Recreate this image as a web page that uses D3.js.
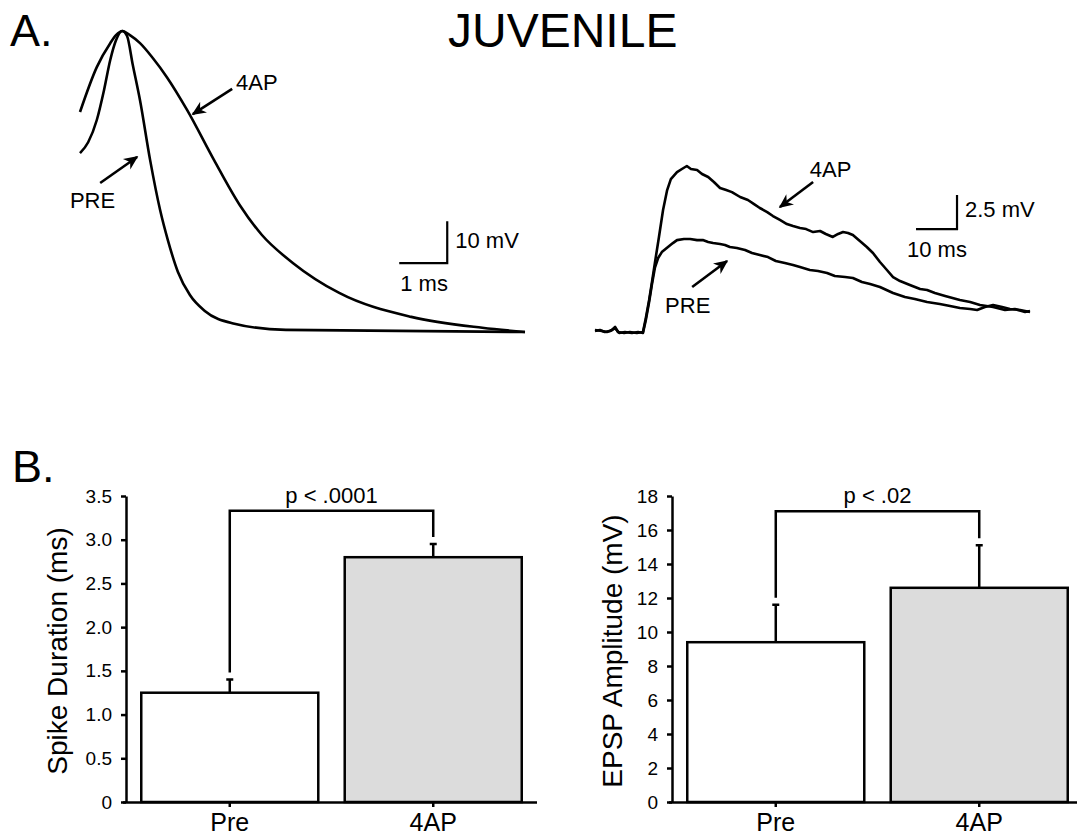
<!DOCTYPE html>
<html>
<head>
<meta charset="utf-8">
<script src="https://cdn.jsdelivr.net/npm/d3@7"></script>
<style>
  body { margin: 0; background: #fff; }
  svg { display: block; font-family: "Liberation Sans", Arial, Helvetica, sans-serif; }
  .trace { fill: none; stroke: #000; stroke-width: 2.6; stroke-linejoin: round; }
  .scalebar { fill: none; stroke: #000; stroke-width: 2.2; }
  .arrow { stroke: #000; stroke-width: 2.6; }
  .axis path, .axis line { stroke: #000; stroke-width: 2.5; }
  .axis text { fill: #000; }
  .bar { stroke: #000; stroke-width: 2.5; }
  .err, .bracket { fill: none; stroke: #000; stroke-width: 2.5; }
</style>
</head>
<body>
<svg width="1077" height="839"></svg>
<script>
// ---- panel A: action potential (t in ms, V in mV above rest) ----
const spike4AP = [
  [0.00, 52.4], [0.35, 63.1], [0.63, 68.8], [0.75, 70.7], [0.88, 71.7],
  [1.04, 70.7], [1.25, 68.8], [1.52, 65.2], [1.81, 60.7], [2.23, 52.9],
  [2.79, 41.0], [3.33, 30.2], [3.79, 23.1], [4.44, 16.4], [5.40, 9.3],
  [6.90, 3.6], [8.38, 1.0], [9.27, 0.0]
];
const spikePre = [
  [0.00, 42.6], [0.17, 45.2], [0.35, 50.5], [0.50, 57.6], [0.63, 64.8],
  [0.75, 69.5], [0.88, 71.7], [0.98, 70.5], [1.10, 63.6], [1.25, 55.2],
  [1.46, 41.0], [1.67, 29.0], [1.83, 21.9], [2.04, 14.3], [2.29, 8.8],
  [2.60, 5.0], [3.17, 2.1], [4.29, 0.5], [9.27, 0.0]
];

// ---- panel A: EPSP (t in ms, V in mV above baseline) ----
const epsp4AP = [
  [0.0, 0.15], [1.7, 0.07], [2.9, 0.0], [4.1, 0.15], [4.9, 0.37], [5.6, 0.0],
  [7.1, -0.07], [8.5, 0.0], [10.2, -0.07], [11.7, 0.0],
  [12.4, 1.03], [13.2, 2.35], [13.9, 3.68], [14.6, 5.07], [15.6, 6.99],
  [16.6, 8.97], [17.6, 10.44], [18.5, 11.25], [20.0, 11.76], [21.2, 11.99],
  [22.4, 12.21], [23.4, 11.99], [24.9, 11.91], [26.1, 11.62], [27.6, 11.40],
  [29.0, 11.03], [30.5, 10.59], [32.0, 10.44], [33.4, 10.29], [35.4, 9.93],
  [37.3, 9.71], [38.8, 9.41], [40.2, 9.12], [42.0, 8.82], [43.4, 8.53],
  [45.1, 8.24], [46.8, 7.94], [48.3, 7.79], [50.0, 7.65], [51.5, 7.57],
  [53.2, 7.35], [54.9, 7.43], [56.3, 7.21], [58.0, 6.99], [59.3, 7.21],
  [60.5, 7.35], [61.7, 7.28], [62.9, 7.13], [64.6, 6.69], [66.3, 6.25],
  [67.8, 5.81], [69.5, 5.15], [71.2, 4.56], [72.7, 4.04], [74.4, 3.75],
  [76.8, 3.46], [79.3, 3.16], [81.0, 3.09], [82.9, 2.87], [85.4, 2.65],
  [89.0, 2.35], [91.5, 2.21], [93.9, 1.99], [97.1, 1.84], [100.0, 1.62],
  [102.4, 1.69], [104.9, 1.47], [106.1, 1.54]
];
const epspPre = [
  [0.0, 0.07], [1.2, 0.15], [2.4, 0.0], [3.7, 0.07], [4.9, 0.29], [5.9, -0.07],
  [7.3, 0.0], [9.0, -0.07], [10.5, 0.0], [11.7, -0.07],
  [12.4, 0.88], [13.2, 2.21], [13.9, 3.53], [14.6, 4.71], [15.4, 5.44],
  [16.3, 5.88], [17.8, 6.25], [19.0, 6.54], [20.0, 6.76], [21.7, 6.84],
  [23.2, 6.84], [24.9, 6.76], [26.3, 6.76], [27.6, 6.62], [28.8, 6.54],
  [30.5, 6.47], [31.7, 6.40], [32.9, 6.25], [34.6, 6.18], [36.6, 6.03],
  [38.3, 5.81], [40.2, 5.66], [42.2, 5.51], [44.1, 5.22], [46.3, 5.07],
  [48.3, 4.93], [50.0, 4.78], [52.4, 4.56], [54.4, 4.49], [56.6, 4.34],
  [58.5, 4.12], [61.0, 4.04], [62.9, 3.97], [65.1, 3.68], [67.1, 3.53],
  [69.5, 3.31], [72.7, 2.87], [75.6, 2.57], [78.0, 2.43], [81.0, 2.21],
  [84.1, 2.06], [86.6, 1.91], [89.0, 1.76], [91.5, 1.69], [93.2, 1.62],
  [95.1, 1.84], [97.1, 1.99], [99.3, 1.84], [101.2, 1.69], [103.7, 1.62],
  [106.1, 1.47]
];

// ---- panel B ----
const conditions = ["Pre", "4AP"];
const spikeDurMean = [1.25, 2.8];
const spikeDurSem = [0.15, 0.15];
const spikeDurTicks = [0, 0.5, 1.0, 1.5, 2.0, 2.5, 3.0, 3.5];
const epspAmpMean = [9.4, 12.6];
const epspAmpSem = [2.2, 2.5];
const epspAmpTicks = [0, 2, 4, 6, 8, 10, 12, 14, 16, 18];
const pLabels = ["p < .0001", "p < .02"];
const bracketLevels = [3.33, 17.1];

const svg = d3.select("svg");

svg.append("defs").append("marker")
    .attr("id", "head")
    .attr("viewBox", "0 0 10 10")
    .attr("refX", 9)
    .attr("refY", 5)
    .attr("markerWidth", 5.5)
    .attr("markerHeight", 5.5)
    .attr("orient", "auto")
  .append("path")
    .attr("d", "M0,0.5 L10,5 L0,9.5 L3,5 Z")
    .attr("fill", "#000");

svg.append("text").attr("x", 10).attr("y", 46).attr("font-size", 45).text("A.");
svg.append("text").attr("x", 448).attr("y", 47).attr("font-size", 48).text("JUVENILE");
svg.append("text").attr("x", 12).attr("y", 482).attr("font-size", 45).text("B.");

function drawTraces(cfg) {
    const x = d3.scaleLinear().domain(cfg.xDomain).range(cfg.xRange);
    const y = d3.scaleLinear().domain(cfg.yDomain).range(cfg.yRange);
    const line = d3.line()
        .x(d => x(d[0]))
        .y(d => y(d[1]))
        .curve(cfg.curve);

    const g = svg.append("g");
    cfg.series.forEach(s => {
        g.append("path").attr("class", "trace").attr("d", line(s));
    });

    // scale bar
    const sb = cfg.scaleBar;
    g.append("path")
        .attr("class", "scalebar")
        .attr("d", `M${x(sb.t - sb.dt)},${y(sb.v)} H${x(sb.t)} V${y(sb.v + sb.dv)}`);
    g.append("text")
        .attr("x", x(sb.t) + 8)
        .attr("y", y(sb.v + sb.dv * 0.36))
        .attr("font-size", 22)
        .text(sb.vLabel);
    g.append("text")
        .attr("x", x(sb.t - sb.dt) + sb.tLabelDx)
        .attr("y", y(sb.v) + 28)
        .attr("font-size", 22)
        .text(sb.tLabel);

    cfg.notes.forEach(n => {
        g.append("line")
            .attr("class", "arrow")
            .attr("x1", x(n.from[0])).attr("y1", y(n.from[1]))
            .attr("x2", x(n.to[0])).attr("y2", y(n.to[1]))
            .attr("marker-end", "url(#head)");
        g.append("text")
            .attr("x", x(n.at[0]))
            .attr("y", y(n.at[1]))
            .attr("font-size", 22)
            .text(n.label);
    });
}

drawTraces({
    xDomain: [0, 9.27], xRange: [80, 525],
    yDomain: [0, 71.7], yRange: [332, 31],
    curve: d3.curveMonotoneX,
    series: [spike4AP, spikePre],
    scaleBar: { t: 7.65, v: 16.4, dt: 1, dv: 10, vLabel: "10 mV", tLabel: "1 ms", tLabelDx: 1 },
    notes: [
        { label: "4AP", at: [3.25, 57.6], from: [3.17, 57.9], to: [2.35, 51.9] },
        { label: "PRE", at: [-0.21, 29.5], from: [0.42, 35.5], to: [1.19, 41.7] }
    ]
});

drawTraces({
    xDomain: [0, 106.1], xRange: [595, 1030],
    yDomain: [0, 12.21], yRange: [332, 166],
    curve: d3.curveLinear,
    series: [epsp4AP, epspPre],
    scaleBar: { t: 88.3, v: 7.57, dt: 10, dv: 2.5, vLabel: "2.5 mV", tLabel: "10 ms", tLabelDx: -9 },
    notes: [
        { label: "4AP", at: [52.4, 11.4], from: [53.2, 11.03], to: [45.1, 9.19] },
        { label: "PRE", at: [17.1, 1.40], from: [23.7, 3.31], to: [32.2, 5.22] }
    ]
});

function drawBars(cfg) {
    const x = d3.scaleBand()
        .domain(conditions)
        .range([cfg.left, cfg.left + 411])
        .paddingInner(0.13)
        .paddingOuter(0.075);
    const y = d3.scaleLinear().domain([0, cfg.max]).range([802, 496]);

    const g = svg.append("g");

    g.selectAll(".bar")
        .data(cfg.mean)
        .enter().append("rect")
        .attr("class", "bar")
        .attr("x", (d, i) => x(conditions[i]))
        .attr("y", d => y(d))
        .attr("width", x.bandwidth())
        .attr("height", d => y(0) - y(d))
        .attr("fill", (d, i) => i === 0 ? "#fff" : "#dcdcdc");

    const cx = i => x(conditions[i]) + x.bandwidth() / 2;

    g.selectAll(".err")
        .data(cfg.mean)
        .enter().append("path")
        .attr("class", "err")
        .attr("d", (d, i) => {
            const top = y(d + cfg.sem[i]);
            return `M${cx(i)},${y(d)} V${top} M${cx(i) - 3.5},${top} H${cx(i) + 3.5}`;
        });

    const lvl = y(cfg.bracket);
    const e0 = y(cfg.mean[0] + cfg.sem[0]) - 7;
    const e1 = y(cfg.mean[1] + cfg.sem[1]) - 7;
    g.append("path")
        .attr("class", "bracket")
        .attr("d", `M${cx(0)},${e0} V${lvl} H${cx(1)} V${e1}`);
    g.append("text")
        .attr("x", (cx(0) + cx(1)) / 2)
        .attr("y", lvl - 8)
        .attr("text-anchor", "middle")
        .attr("font-size", 22)
        .text(cfg.p);

    g.append("g")
        .attr("class", "axis")
        .attr("transform", `translate(${cfg.left}, 0)`)
        .call(d3.axisLeft(y).tickValues(cfg.ticks).tickSize(5).tickPadding(9).tickSizeOuter(0)
            .tickFormat(cfg.fmt))
        .call(a => a.selectAll("text").attr("font-size", 19).attr("font-family", null));

    g.append("g")
        .attr("class", "axis")
        .attr("transform", "translate(0, 802)")
        .call(d3.axisBottom(x).tickSize(5).tickPadding(6).tickSizeOuter(0))
        .call(a => a.select(".domain").attr("d", `M${cfg.left - 3},0.5H${cfg.left + 411}`))
        .call(a => a.selectAll("text").attr("font-size", 25).attr("font-family", null));

    g.append("text")
        .attr("transform", `translate(${cfg.titleX}, 651) rotate(-90)`)
        .attr("text-anchor", "middle")
        .attr("font-size", 28)
        .text(cfg.title);
}

drawBars({
    left: 126, max: 3.5, mean: spikeDurMean, sem: spikeDurSem,
    ticks: spikeDurTicks, fmt: d => d === 0 ? "0" : d.toFixed(1),
    bracket: bracketLevels[0], p: pLabels[0],
    title: "Spike Duration (ms)", titleX: 67
});

drawBars({
    left: 672, max: 18, mean: epspAmpMean, sem: epspAmpSem,
    ticks: epspAmpTicks, fmt: d => d,
    bracket: bracketLevels[1], p: pLabels[1],
    title: "EPSP Amplitude (mV)", titleX: 622
});
</script>
</body>
</html>
